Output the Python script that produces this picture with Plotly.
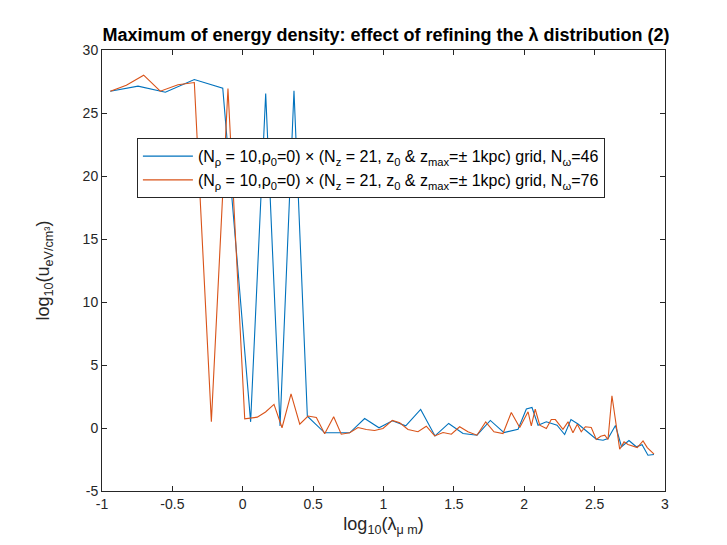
import plotly.graph_objects as go

# log10(lambda) sample points and log10(u) values
X46 = [-0.941, -0.744, -0.550, -0.344, -0.142, 0.056, 0.163, 0.265, 0.364, 0.459,
       0.582, 0.670, 0.760, 0.866, 0.968, 1.063, 1.158, 1.264, 1.366, 1.463,
       1.565, 1.664, 1.759, 1.856, 1.956, 2.015, 2.055, 2.098, 2.157, 2.233,
       2.287, 2.332, 2.382, 2.446, 2.512, 2.560, 2.595, 2.648, 2.691, 2.744,
       2.796, 2.837, 2.879, 2.922]
U46 = [26.73, 27.13, 26.65, 27.66, 26.97, 0.49, 26.55, 0.17, 26.76, 0.94,
       -0.38, -0.38, -0.38, 0.75, 0.02, 0.57, 0.17, 1.47, -0.63, 0.36,
       -0.44, -0.57, 0.60, -0.36, -0.10, 1.51, 1.63, 0.22, 0.49, 0.22,
       -0.52, 0.67, 0.32, -0.28, -0.89, -0.97, -0.83, 0.20, -1.49, -0.99,
       -1.49, -1.33, -2.16, -2.10]

X76 = [-0.941, -0.827, -0.704, -0.586, -0.460, -0.344, -0.223, -0.105, 0.014, 0.103,
       0.162, 0.222, 0.279, 0.343, 0.405, 0.464, 0.523, 0.582, 0.646, 0.700,
       0.760, 0.819, 0.878, 0.937, 0.996, 1.063, 1.115, 1.174, 1.245, 1.304,
       1.364, 1.423, 1.482, 1.541, 1.600, 1.664, 1.726, 1.785, 1.849, 1.908,
       1.968, 2.027, 2.050, 2.078, 2.110, 2.157, 2.192, 2.221, 2.275, 2.311,
       2.346, 2.377, 2.405, 2.434, 2.476, 2.512, 2.543, 2.572, 2.595, 2.623,
       2.678, 2.709, 2.737, 2.803, 2.844, 2.874, 2.922]
U76 = [26.73, 27.21, 28.00, 26.73, 27.24, 27.42, 0.49, 26.94, 0.73, 0.86,
       1.27, 1.87, 0.02, 2.71, 0.30, 0.95, 0.83, -0.46, 0.89, -0.49,
       -0.38, 0.04, -0.12, -0.20, -0.04, 0.60, 0.41, -0.12, -0.30, 0.14,
       -0.63, -0.36, -0.49, 0.10, -0.30, -0.57, 0.49, -0.30, -0.44, 1.23,
       0.04, 1.29, 0.17, 1.49, 0.22, -0.04, 0.67, 0.67, -0.10, 0.49,
       -0.38, 0.30, -0.30, 0.10, 0.04, -0.91, -0.65, -0.57, -0.91, 2.56,
       -1.68, -1.10, -1.31, -1.55, -1.02, -1.55, -2.08]

XTICKS = [-1, -0.5, 0, 0.5, 1, 1.5, 2, 2.5, 3]
YTICKS = [-5, 0, 5, 10, 15, 20, 25, 30]

BLUE, ORANGE = "#0072BD", "#D95319"
LBL = ("(N<sub>ρ</sub> = 10,ρ<sub>0</sub>=0) × (N<sub>z</sub> = 21, z<sub>0</sub> & "
       "z<sub>max</sub>=± 1kpc) grid, N<sub>ω</sub>=")

fig = go.Figure()
fig.add_trace(go.Scatter(x=X46, y=U46, mode="lines", name=LBL + "46",
                         line=dict(color=BLUE, width=1.1)))
fig.add_trace(go.Scatter(x=X76, y=U76, mode="lines", name=LBL + "76",
                         line=dict(color=ORANGE, width=1.1)))

axis = dict(showgrid=False, zeroline=False, showline=True, mirror="ticks",
            linecolor="#262626", linewidth=1, ticks="inside", ticklen=5,
            tickcolor="#262626", tickfont=dict(size=14, color="#262626"))
fig.update_xaxes(**axis, range=[-1, 3], tickvals=XTICKS,
                 ticktext=[f"{v:g}" for v in XTICKS],
                 title=dict(text="log<sub>10</sub>(λ<sub>μ m</sub>)",
                            font=dict(size=18, color="#262626"), standoff=6))
fig.update_yaxes(**axis, range=[-5, 30], tickvals=YTICKS,
                 ticktext=[f"{v:g}" for v in YTICKS],
                 title=dict(text="log<sub>10</sub>(u<sub>eV/cm³</sub>)",
                            font=dict(size=18, color="#262626"), standoff=28))

fig.update_layout(
    width=727, height=545,
    margin=dict(l=94, r=70, t=42, b=62),
    paper_bgcolor="white", plot_bgcolor="white",
    font=dict(family="Liberation Sans, Arial, sans-serif", color="#262626"),
    title=dict(text="<b>Maximum of energy density: effect of refining the λ distribution (2)</b>",
               x=0.52, xanchor="center", y=0.94, yanchor="bottom",
               font=dict(size=18, color="black")),
    legend=dict(x=0.062, y=0.80, xanchor="left", yanchor="top",
                bgcolor="white", bordercolor="#262626", borderwidth=1,
                font=dict(size=16, color="black"), tracegroupgap=0,
                itemwidth=50),
    showlegend=True,
)

fig.write_html("out.html")
